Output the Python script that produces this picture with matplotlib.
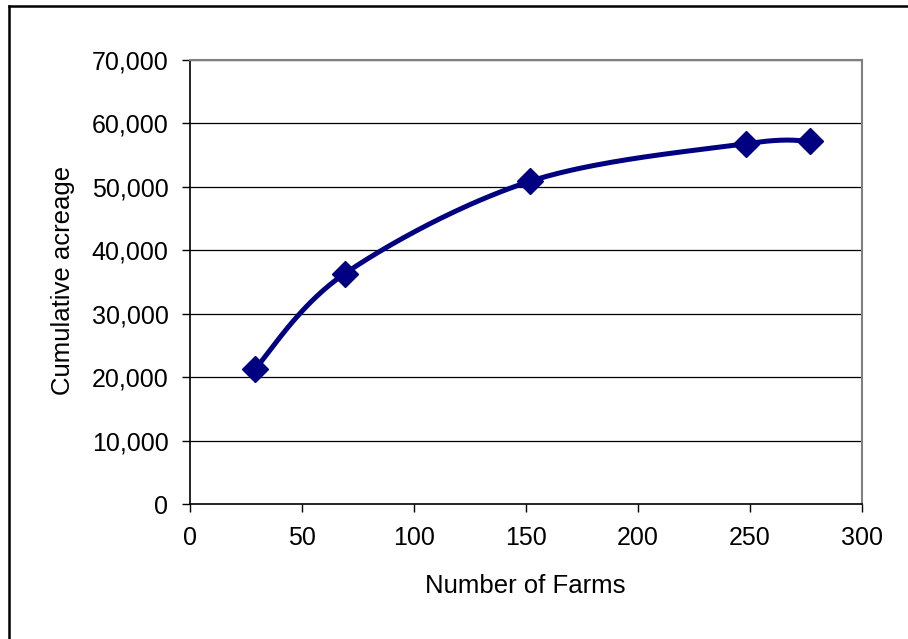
import numpy as np
import matplotlib
matplotlib.use("Agg")
import matplotlib.pyplot as plt
from matplotlib.lines import Line2D

farms = [29, 69, 152, 248, 277]
acreage = [21300, 36300, 50900, 56800, 57200]
xticks = [0, 50, 100, 150, 200, 250, 300]
yticks = [0, 10000, 20000, 30000, 40000, 50000, 60000, 70000]

plt.rcParams['font.family'] = ['Liberation Sans', 'DejaVu Sans']

fig = plt.figure(figsize=(9.08, 6.39), dpi=100)
W, H = 908, 639
L, R, T, B = 190, 862, 60, 504
ax = fig.add_axes([L / W, 1 - B / H, (R - L) / W, (B - T) / H])
pw, ph = R - L, B - T

xmin, xmax, ymin, ymax = 0, 300, 0, 70000

# Excel-style smoothed line (Catmull-Rom Bezier) in pixel-proportional coordinates
px = (np.array(farms) - xmin) / (xmax - xmin) * pw
py = (np.array(acreage) - ymin) / (ymax - ymin) * ph
P = np.column_stack([px, py])
n = len(P)
curve = []
t = np.linspace(0, 1, 60)
for i in range(n - 1):
    p0 = P[i - 1] if i > 0 else P[i]
    p1 = P[i]
    p2 = P[i + 1]
    p3 = P[i + 2] if i + 2 < n else P[i + 1]
    c1 = p1 + (p2 - p0) / 6
    c2 = p2 - (p3 - p1) / 6
    seg = ((1 - t)[:, None] ** 3 * p1 + 3 * ((1 - t) ** 2 * t)[:, None] * c1
           + 3 * ((1 - t) * t ** 2)[:, None] * c2 + (t ** 3)[:, None] * p2)
    curve.append(seg)
curve = np.vstack(curve)
cx = curve[:, 0] / pw * (xmax - xmin) + xmin
cy = curve[:, 1] / ph * (ymax - ymin) + ymin

for y in yticks[1:]:
    ax.axhline(y, color='black', lw=0.9, zorder=1)

ax.plot(cx, cy, color='#000080', lw=3.6, zorder=3, solid_capstyle='round')
ax.plot(farms, acreage, linestyle='none', marker='D', markersize=13,
        color='#000080', zorder=4)

ax.set_xlim(xmin, xmax)
ax.set_ylim(ymin, ymax)
ax.set_xticks(xticks)
ax.set_yticks(yticks)
ax.set_yticklabels([f"{v:,}" for v in yticks])
ax.tick_params(direction='out', length=5.5, width=1, labelsize=18, colors='black')
ax.tick_params(axis='x', pad=10.5)
ax.tick_params(axis='y', pad=10)

for s in ['top', 'right']:
    ax.spines[s].set_color('#808080')
    ax.spines[s].set_linewidth(1.5)
for s in ['left', 'bottom']:
    ax.spines[s].set_color('black')
    ax.spines[s].set_linewidth(1.2)

ax.set_xlabel('Number of Farms', fontsize=18.5, va='baseline')
ax.xaxis.set_label_coords((525.5 - L) / pw, -(593 - B) / ph)
ax.set_ylabel('Cumulative acreage', fontsize=18.5, va='baseline')
ax.yaxis.set_label_coords(-(L - 70) / pw, (B - 280.5) / ph)

# Chart frame: only left and top edges are visible in the reference
fig.lines.append(Line2D([9 / W, 9 / W], [0, 1 - 5.5 / H], transform=fig.transFigure,
                        color='black', lw=1.8))
fig.lines.append(Line2D([9 / W, 1], [1 - 5.5 / H, 1 - 5.5 / H], transform=fig.transFigure,
                        color='black', lw=1.8))

fig.savefig('out.png', dpi=100)
